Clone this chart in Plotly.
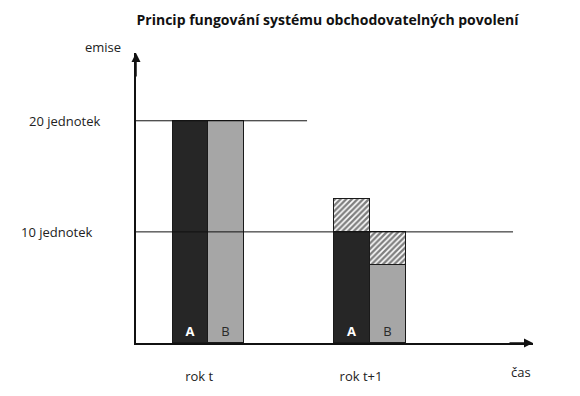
import plotly.graph_objects as go

# ---- data ----
years = ["rok t", "rok t+1"]
year_pos = [1, 2]
firms = ["A", "B"]
a_base = [20, 10]      # emissions covered by permits, firm A
a_excess = [0, 3]      # emissions above permits, firm A (hatched)
b_base = [20, 7]       # firm B actual emissions
b_spare = [0, 3]       # unused permits, firm B (hatched)
levels = [20, 10]
level_labels = ["20 jednotek", "10 jednotek"]
level_line_end = [1.611, 2.884]

bar_w = 0.22
xa = [p - bar_w / 2 for p in year_pos]
xb = [p + bar_w / 2 for p in year_pos]

dark = "#262626"
grey = "#a6a6a6"
edge = dict(color="#1a1a1a", width=1)
font = "Open Sans"
hatch = dict(shape="/", fgcolor="#000", bgcolor="white", size=4, solidity=0.6)

fig = go.Figure()
fig.add_bar(x=xa, y=a_base, width=bar_w, marker=dict(color=dark, line=edge),
            text=["<b>%s</b>" % firms[0]] * 2, textposition="inside", insidetextanchor="start",
            textfont=dict(color="white", size=13, family=font), textangle=0,
            hoverinfo="skip")
fig.add_bar(x=xa, y=a_excess, width=bar_w,
            marker=dict(color="white", line=edge, pattern=hatch), hoverinfo="skip")
fig.add_bar(x=xb, y=b_base, width=bar_w, marker=dict(color=grey, line=edge),
            text=[firms[1]] * 2, textposition="inside", insidetextanchor="start",
            textfont=dict(color="#2a2a2a", size=13, family=font), textangle=0,
            hoverinfo="skip")
fig.add_bar(x=xb, y=b_spare, width=bar_w,
            marker=dict(color="white", line=edge, pattern=hatch), hoverinfo="skip")

x0 = 0.5538
x1 = 3.0074
for lv, xe in zip(levels, level_line_end):
    fig.add_shape(type="line", xref="x", yref="y", x0=x0, x1=xe, y0=lv, y1=lv,
                  line=dict(color="#111", width=1), layer="above")

lab_font = dict(family=font, size=13, color="#222")
for lv, lab, xp in zip(levels, level_labels, [-0.1776, -0.199]):
    fig.add_annotation(text=lab, xref="paper", yref="y", x=xp, y=lv, showarrow=False,
                       xanchor="center", yanchor="middle", font=lab_font)

# axis arrows
fig.add_annotation(xref="paper", yref="paper", x=0, y=1, ax=0, ay=25, showarrow=True,
                   arrowhead=2, arrowsize=1.2, arrowwidth=1.5, arrowcolor="#111", text="")
fig.add_annotation(xref="paper", yref="paper", x=1, y=0, ax=-25, ay=0, showarrow=True,
                   arrowhead=2, arrowsize=1.2, arrowwidth=1.5, arrowcolor="#111", text="")
fig.add_annotation(text="emise", xref="paper", yref="paper", x=-0.083, y=1.0207,
                   xanchor="center", yanchor="middle", showarrow=False, font=lab_font)
fig.add_annotation(text="čas", xref="paper", yref="paper", x=0.97, y=-0.1,
                   xanchor="center", yanchor="middle", showarrow=False, font=lab_font)

fig.update_layout(
    width=564, height=380,
    margin=dict(l=128, r=39, t=45, b=45),
    barmode="stack", bargap=0, showlegend=False,
    plot_bgcolor="white", paper_bgcolor="white",
    title=dict(text="<b>Princip fungování systému obchodovatelných povolení</b>",
               x=0.5665, y=0.968, xanchor="center", yanchor="middle", automargin=False,
               font=dict(family=font, size=14, color="#111")),
    xaxis=dict(range=[x0, x1], showgrid=False, zeroline=False, showline=True,
               linecolor="#111", linewidth=1.5, tickvals=year_pos, ticktext=years,
               ticks="", ticklabelstandoff=21, ticklabelshift=-9, automargin=False,
               tickfont=lab_font),
    yaxis=dict(range=[0, 26.1], showgrid=False, zeroline=False, showline=True,
               linecolor="#111", linewidth=1.5, showticklabels=False, ticks="",
               automargin=False),
)

fig.write_html("out.html")
